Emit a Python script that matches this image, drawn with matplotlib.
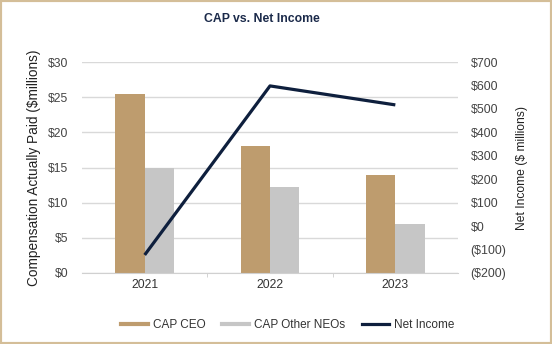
import matplotlib
matplotlib.use("Agg")
import matplotlib.pyplot as plt
import numpy as np
from matplotlib.lines import Line2D
from matplotlib.patches import Rectangle

years = ["2021", "2022", "2023"]
cap_ceo = [25.5, 18.0, 14.0]
cap_other = [14.9, 12.2, 7.0]
net_income = [-123, 598, 517]
left_ticks = [0, 5, 10, 15, 20, 25, 30]
right_ticks = [-200, -100, 0, 100, 200, 300, 400, 500, 600, 700]

def money(v):
    return f"(${abs(v)})" if v < 0 else f"${v}"

plt.rcParams['font.family'] = ['Liberation Sans', 'DejaVu Sans']

fig = plt.figure(figsize=(5.52, 3.44), dpi=100)
W, H = 552, 344
ax = fig.add_axes([82 / W, 1 - 273 / H, (458 - 82) / W, (273 - 62) / H])

x = np.arange(len(years))
bw = 0.235
gold = "#BE9C6E"
grey = "#C6C6C6"
navy = "#0E1F3D"
ax.bar(x - bw / 2, cap_ceo, bw, color=gold, zorder=2)
ax.bar(x + bw / 2, cap_other, bw, color=grey, zorder=2)
ax.set_xlim(-0.5, 2.5)
ax.set_ylim(0, 30)
ax.set_yticks(left_ticks)
ax.set_yticklabels([money(v) for v in left_ticks], color="#444444", fontsize=8.7)
ax.set_xticks(x)
ax.set_xticklabels(years, color="#333333", fontsize=8.7)
ax.set_xticks([0.5, 1.5], minor=True)
ax.tick_params(axis='x', which='major', length=0, pad=4)
ax.tick_params(axis='x', which='minor', length=3, color="#CCCCCC")
ax.tick_params(axis='y', length=0, pad=10)
ax.grid(axis='y', color="#D9D9D9", lw=1, zorder=0)
for s in ["top", "right", "left"]:
    ax.spines[s].set_visible(False)
ax.spines["bottom"].set_color("#D0D0D0")
ax.set_ylabel("Compensation Actually Paid ($millions)", fontsize=9.8, color="#222222", labelpad=5)

ax2 = ax.twinx()
ax2.plot(x, net_income, color=navy, lw=2.3, zorder=3, solid_capstyle='butt')
ax2.set_ylim(-200, 700)
ax2.set_yticks(right_ticks)
ax2.set_yticklabels([money(v) for v in right_ticks], color="#444444", fontsize=8.9)
ax2.tick_params(axis='y', length=0, pad=9)
for s in ["top", "right", "left", "bottom"]:
    ax2.spines[s].set_visible(False)
ax2.set_ylabel("Net Income ($ millions)", fontsize=8.7, color="#222222", labelpad=7)

fig.text(261.5 / W, 1 - 19 / H, "CAP vs. Net Income", ha="center", va="center",
         fontsize=8.8, fontweight="bold", color="#1B2A4A")

handles = [Line2D([0], [0], color=gold, lw=3),
           Line2D([0], [0], color=grey, lw=3),
           Line2D([0], [0], color=navy, lw=2.3)]
fig.legend(handles, ["CAP CEO", "CAP Other NEOs", "Net Income"],
           loc="center", bbox_to_anchor=(287.5 / W, 1 - 325 / H), ncol=3, frameon=False,
           fontsize=8.5, handlelength=2.3, columnspacing=1.4, handletextpad=0.4,
           labelcolor="#333333")

fig.patches.append(Rectangle((0, 0), 1, 1, transform=fig.transFigure, fill=False,
                             edgecolor="#D4BE98", lw=3, zorder=10))

fig.savefig("out.png", dpi=100)
